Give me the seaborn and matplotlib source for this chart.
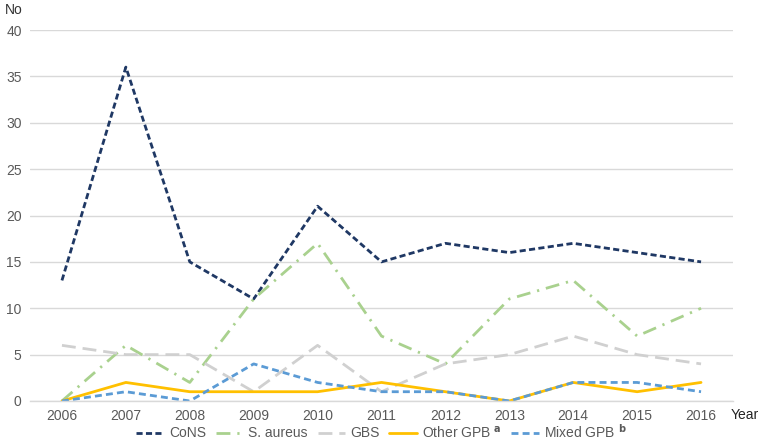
import matplotlib
matplotlib.use("Agg")
import matplotlib.pyplot as plt
import seaborn as sns
import pandas as pd

years = [2006, 2007, 2008, 2009, 2010, 2011, 2012, 2013, 2014, 2015, 2016]
cons = [13, 36, 15, 11, 21, 15, 17, 16, 17, 16, 15]
s_aureus = [0, 6, 2, 11, 17, 7, 4, 11, 13, 7, 10]
gbs = [6, 5, 5, 1, 6, 1, 4, 5, 7, 5, 4]
other_gpb = [0, 2, 1, 1, 1, 2, 1, 0, 2, 1, 2]
mixed_gpb = [0, 1, 0, 4, 2, 1, 1, 0, 2, 2, 1]
yticks = [0, 5, 10, 15, 20, 25, 30, 35, 40]

series = [
    ("CoNS", cons, "#1F3864", (0, (2.2, 1.2))),
    ("S. aureus", s_aureus, "#A9D18E", (0, (5, 2.5, 0.8, 2.5))),
    ("GBS", gbs, "#D0D0D0", (0, (5, 2.5))),
    ("Other GPB $^{\\mathbf{a}}$", other_gpb, "#FFC000", "-"),
    ("Mixed GPB $^{\\mathbf{b}}$", mixed_gpb, "#5B9BD5", (0, (2.5, 1.5))),
]

sns.set_theme(style="white")
plt.rcParams['font.family'] = ['Liberation Sans', 'DejaVu Sans']

fig = plt.figure(figsize=(7.61, 4.45), dpi=100)
ax = fig.add_axes([30/761, 1 - 401/445, (733 - 30)/761, (401 - 30)/445])

for name, vals, color, ls in series:
    df = pd.DataFrame({"Year": years, "No": vals})
    sns.lineplot(data=df, x="Year", y="No", ax=ax, color=color, linewidth=2.0,
                 linestyle=ls, label=name)

ax.set_xlim(2005.5, 2016.5)
ax.set_ylim(0, 40)
ax.set_yticks(yticks)
ax.set_xticks(years)
ax.set_xlabel("")
ax.set_ylabel("")
ax.yaxis.grid(True, color="#D9D9D9", linewidth=1.0)
ax.set_axisbelow(True)
for s in ["top", "right", "left"]:
    ax.spines[s].set_visible(False)
ax.spines["bottom"].set_color("#D9D9D9")
ax.spines["bottom"].set_linewidth(1.0)
ax.tick_params(axis="both", length=0, labelsize=10, colors="#595959", pad=6)

fig.text(5/761, 1 - 10/445, "No", fontsize=10, color="#333333", va="center", ha="left")
fig.text(731/761, 1 - 415/445, "Year", fontsize=10, color="#222222", va="center", ha="left")

leg = ax.legend(loc="center", bbox_to_anchor=(0.5, -0.082), ncol=5, frameon=False,
                fontsize=10, handlelength=2.0, columnspacing=0.7, handletextpad=0.35)
for t in leg.get_texts():
    t.set_color("#595959")

fig.savefig("out.png", dpi=100)
